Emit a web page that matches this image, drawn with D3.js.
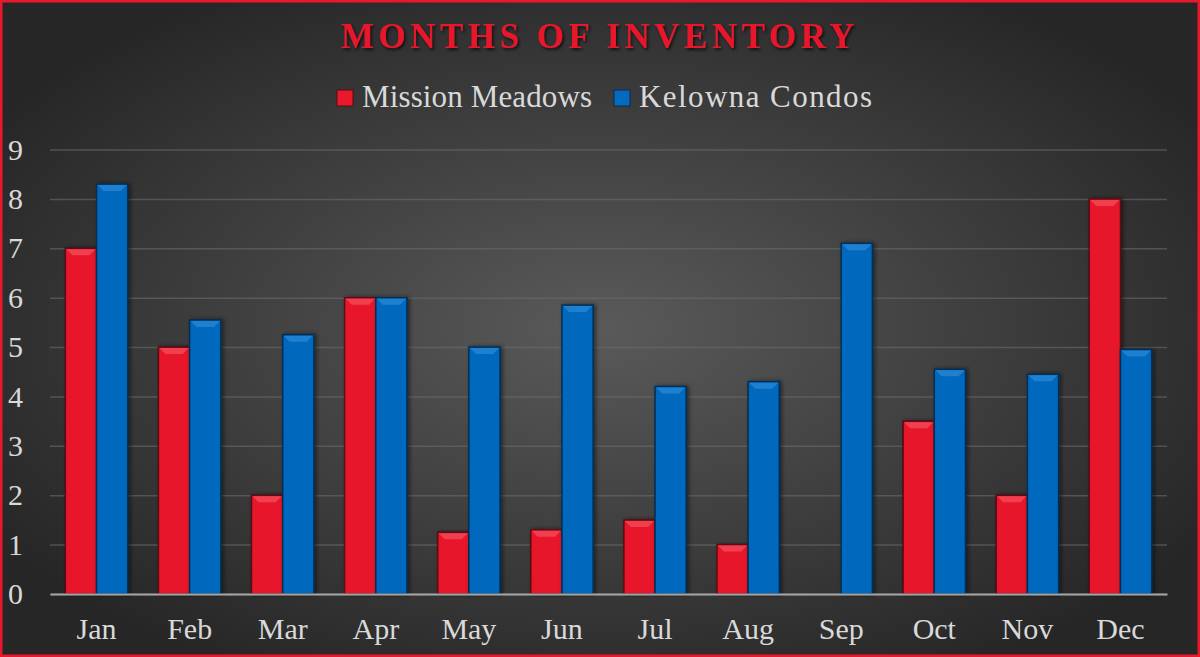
<!DOCTYPE html>
<html><head><meta charset="utf-8">
<script src="https://cdn.jsdelivr.net/npm/d3@7"></script>
<style>html,body{margin:0;padding:0;background:#2a2a2a;}svg{display:block;}</style>
</head><body>
<svg id="chart" width="1200" height="657"></svg>
<script>
const months = ["Jan","Feb","Mar","Apr","May","Jun","Jul","Aug","Sep","Oct","Nov","Dec"];
const missionMeadows = [7, 5, 2, 6, 1.25, 1.3, 1.5, 1.0, 0, 3.5, 2, 8];
const kelownaCondos = [8.3, 5.55, 5.25, 6, 5.0, 5.85, 4.2, 4.3, 7.1, 4.55, 4.45, 4.95];
const seriesNames = ["Mission Meadows", "Kelowna Condos"];
const yTicks = [0,1,2,3,4,5,6,7,8,9];
const title = "MONTHS OF INVENTORY";

const W = 1200, H = 657;
const svg = d3.select("#chart");
const defs = svg.append("defs");
const rg = defs.append("radialGradient").attr("id","bg").attr("cx","50%").attr("cy","50%").attr("r","60%");
rg.append("stop").attr("offset","0%").attr("stop-color","#5a5a5a");
rg.append("stop").attr("offset","100%").attr("stop-color","#262626");
const sh = defs.append("filter").attr("id","tshadow").attr("x","-10%").attr("y","-30%").attr("width","120%").attr("height","160%");
sh.append("feDropShadow").attr("dx",1.5).attr("dy",2).attr("stdDeviation",1.5).attr("flood-color","#000").attr("flood-opacity",0.7);
const bsh = defs.append("filter").attr("id","bshadow").attr("x","-20%").attr("y","-5%").attr("width","140%").attr("height","110%");
bsh.append("feDropShadow").attr("dx",2).attr("dy",0).attr("stdDeviation",2).attr("flood-color","#000").attr("flood-opacity",0.5);

svg.append("rect").attr("x",0).attr("y",0).attr("width",W).attr("height",H).attr("fill","url(#bg)");
svg.append("rect").attr("x",1.25).attr("y",1.25).attr("width",W-2.5).attr("height",H-2.5)
  .attr("fill","none").attr("stroke","#e8192c").attr("stroke-width",2.5);

const font = "'Liberation Serif', 'DejaVu Serif', serif";
const margin = {left: 50, right: 33, top: 149.5, bottom: 63};
const x0 = d3.scaleBand().domain(months).range([margin.left, W - margin.right]).paddingInner(0.33).paddingOuter(0.165);
const x1 = d3.scaleBand().domain(seriesNames).range([0, x0.bandwidth()]).padding(0);
const y = d3.scaleLinear().domain([0,9]).range([H - margin.bottom, margin.top]);
const colors = {"Mission Meadows": "#e8192c", "Kelowna Condos": "#0569be"};
const edge = {"Mission Meadows": "#5a0a12", "Kelowna Condos": "#062f57"};
const hilite = {"Mission Meadows": "#f0404f", "Kelowna Condos": "#1f80d0"};

// gridlines
const gridAxis = d3.axisLeft(y).tickValues(yTicks).tickSize(-(W - margin.left - margin.right)).tickFormat("");
const g = svg.append("g").attr("transform",`translate(${margin.left},0)`).call(gridAxis);
g.select(".domain").remove();
g.selectAll(".tick line").attr("stroke","#6a6a6a").attr("stroke-opacity",0.6).attr("stroke-width",1.5);

// y labels
const ya = svg.append("g").attr("transform",`translate(${margin.left},0)`).call(d3.axisLeft(y).tickValues(yTicks).tickSize(0).tickPadding(27));
ya.select(".domain").remove();
ya.selectAll("text").attr("font-family",font).attr("font-size",30).attr("fill","#d9d9d9");

// bars
const data = months.map((m,i)=>({month:m, vals:[{name:seriesNames[0], v:missionMeadows[i]},{name:seriesNames[1], v:kelownaCondos[i]}]}));
const groups = svg.append("g").selectAll("g").data(data).join("g").attr("transform",d=>`translate(${x0(d.month)},0)`);
const bars = groups.selectAll("g.bar").data(d=>d.vals.filter(v=>v.v>0)).join("g").attr("class","bar");
bars.append("rect")
  .attr("x",d=>x1(d.name)).attr("width",x1.bandwidth())
  .attr("y",d=>y(d.v)).attr("height",d=>y(0)-y(d.v))
  .attr("fill",d=>colors[d.name]).attr("stroke",d=>edge[d.name]).attr("stroke-width",1.5)
  .attr("filter","url(#bshadow)");
bars.append("path")
  .attr("d",d=>{const xa=x1(d.name)+1, xb=x1(d.name)+x1.bandwidth()-1, yt=y(d.v)+1; const bw=6;
    return `M${xa},${yt}L${xb},${yt}L${xb-bw},${yt+bw}L${xa+bw},${yt+bw}Z`;})
  .attr("fill",d=>hilite[d.name]);

// x axis
const xa = svg.append("g").attr("transform",`translate(0,${y(0)})`).call(d3.axisBottom(x0).tickSize(0).tickPadding(24));
xa.select(".domain").attr("stroke","#a6a6a6").attr("stroke-width",2);
xa.selectAll("text").attr("font-family",font).attr("font-size",30).attr("fill","#d9d9d9");

// title
svg.append("text").attr("x",600).attr("y",48).attr("text-anchor","middle")
  .attr("font-family",font).attr("font-weight","bold").attr("font-size",35).attr("letter-spacing",4.5)
  .attr("fill","#e8192c").attr("filter","url(#tshadow)").text(title);

// legend
const legendX = [337, 614];
const legendLen = [230, 233];
const lg = svg.append("g").selectAll("g").data(seriesNames).join("g").attr("transform",(d,i)=>`translate(${legendX[i]},90)`);
lg.append("rect").attr("width",16).attr("height",16).attr("fill",d=>colors[d]).attr("stroke",d=>edge[d]).attr("stroke-width",1);
lg.append("text").attr("x",25).attr("y",17).attr("font-family",font).attr("font-size",31).attr("fill","#d9d9d9")
  .attr("textLength",(d,i)=>legendLen[i]).attr("lengthAdjust","spacing").text(d=>d);
</script>
</body></html>
